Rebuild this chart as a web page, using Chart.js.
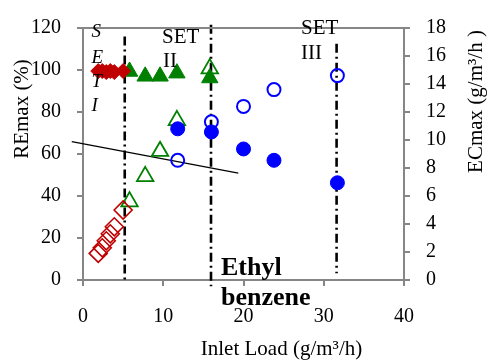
<!DOCTYPE html>
<html>
<head>
<meta charset="utf-8">
<script src="https://cdn.jsdelivr.net/npm/chart.js@4.4.1/dist/chart.umd.min.js"></script>
<style>
html,body{margin:0;padding:0;background:#fff;}
#wrap{width:489px;height:360px;position:relative;}
</style>
</head>
<body>
<div id="wrap"><canvas id="c" width="489" height="360"></canvas></div>
<script>
// ---- data ----
const redLoad   = [1.9, 2.4, 2.9, 3.4, 3.9, 5.0];
const redRE     = [99.5, 99.5, 99.0, 99.5, 99.0, 99.5];
const redEC     = [1.9, 2.3, 2.8, 3.3, 3.8, 5.0];

const greenLoad = [5.8, 7.75, 9.6, 11.7, 15.8];
const greenRE   = [99.3, 97.0, 97.0, 98.5, 96.2];
const greenEC   = [5.6, 7.4, 9.2, 11.4, 15.1];

const blueLoad  = [11.8, 16.0, 20.0, 23.8, 31.7];
const blueRE    = [72.0, 70.5, 62.4, 57.0, 46.3];
const blueEC    = [8.55, 11.3, 12.4, 13.6, 14.6];

const trendX    = [-1.4, 19.35];
const trendY    = [65.9, 50.9];

const setLineX     = [5.2, 15.95, 31.6];
const setLineTop   = [116, 121.5, 112.5];
const setLineBot   = [-1.5, -3, 3.2];

const xTicks  = [0, 10, 20, 30, 40];
const reTicks = [0, 20, 40, 60, 80, 100, 120];
const ecTicks = [0, 2, 4, 6, 8, 10, 12, 14, 16, 18];

const xTitle  = 'Inlet Load (g/m³/h)';
const reTitle = 'REmax (%)';
const ecTitle = 'ECmax (g/m³/h )';
const setLetters = ['S', 'E', 'T', 'I'];
const set2Label = ['SET', 'II'];
const set3Label = ['SET', 'III'];
const compoundLabel = ['Ethyl', 'benzene'];

// ---- build datasets ----
const pts = (xs, ys) => xs.map((x, i) => ({x: x, y: ys[i]}));
const RED = '#C00000', GREEN = '#008000', BLUE = '#0000FF';

const datasets = [];
setLineX.forEach((x, i) => {
  datasets.push({
    data: [{x: x, y: setLineTop[i]}, {x: x, y: setLineBot[i]}],
    yAxisID: 'y', showLine: true, borderColor: '#000', borderWidth: 2.6,
    borderDash: [9, 4, 2, 4], pointRadius: 0, clip: false, order: 5
  });
});
datasets.push({
  data: pts(trendX, trendY), yAxisID: 'y', showLine: true, borderColor: '#000',
  borderWidth: 1.3, pointRadius: 0, clip: false, order: 4
});
datasets.push({data: pts(redLoad, redRE), yAxisID: 'y', pointStyle: 'rectRot', pointRadius: 7.5,
  backgroundColor: RED, borderColor: RED, borderWidth: 1, order: 2});
datasets.push({data: pts(redLoad, redEC), yAxisID: 'y1', pointStyle: 'rectRot', pointRadius: 9,
  backgroundColor: 'rgba(0,0,0,0)', borderColor: RED, borderWidth: 1.6, order: 2});
datasets.push({data: pts(greenLoad, greenRE), yAxisID: 'y', pointStyle: 'triangle', pointRadius: 9.5,
  backgroundColor: GREEN, borderColor: GREEN, borderWidth: 1, order: 2});
datasets.push({data: pts(greenLoad, greenEC), yAxisID: 'y1', pointStyle: 'triangle', pointRadius: 9.5,
  backgroundColor: 'rgba(0,0,0,0)', borderColor: GREEN, borderWidth: 1.8, order: 2});
datasets.push({data: pts(blueLoad, blueRE), yAxisID: 'y', pointStyle: 'circle', pointRadius: 7,
  backgroundColor: BLUE, borderColor: BLUE, borderWidth: 1, order: 1});
datasets.push({data: pts(blueLoad, blueEC), yAxisID: 'y1', pointStyle: 'circle', pointRadius: 6.5,
  backgroundColor: 'rgba(0,0,0,0)', borderColor: BLUE, borderWidth: 2, order: 1});

const SERIF = "'Liberation Serif', 'Times New Roman', serif";
const GRAY = '#868686';
const tickFont = {family: SERIF, size: 20};

const annot = {
  id: 'annot',
  afterDraw(chart) {
    const ctx = chart.ctx, a = chart.chartArea;
    ctx.save();
    ctx.strokeStyle = GRAY; ctx.lineWidth = 2;
    ctx.beginPath(); ctx.moveTo(a.left, a.top); ctx.lineTo(a.right + 1, a.top); ctx.stroke();

    ctx.fillStyle = '#000';
    ctx.textBaseline = 'alphabetic';
    ctx.textAlign = 'left';
    ctx.font = 'italic 19px ' + SERIF;
    const letterBase = [37.3, 62.5, 87.3, 111];
    setLetters.forEach((t, i) => ctx.fillText(t, 91.5, letterBase[i]));

    ctx.font = '21px ' + SERIF;
    ctx.fillText(set2Label[0], 162, 42.7);
    ctx.fillText(set2Label[1], 163, 66.7);
    ctx.fillText(set3Label[0], 301, 34.3);
    ctx.fillText(set3Label[1], 301, 59.3);

    ctx.font = 'bold 26px ' + SERIF;
    ctx.fillText(compoundLabel[0], 221, 275);
    ctx.fillText(compoundLabel[1], 221, 305);

    ctx.font = '21px ' + SERIF;
    ctx.textAlign = 'center';
    ctx.fillText(xTitle, 281.5, 355);

    ctx.save();
    ctx.translate(28, 109);
    ctx.rotate(-Math.PI / 2);
    ctx.fillText(reTitle, 0, 0);
    ctx.restore();

    ctx.save();
    ctx.translate(482, 101.5);
    ctx.rotate(-Math.PI / 2);
    ctx.fillText(ecTitle, 0, 0);
    ctx.restore();

    ctx.restore();
  }
};

const gridOpts = {display: true, drawOnChartArea: false, drawTicks: true, tickLength: 6, color: GRAY, lineWidth: 2};

new Chart(document.getElementById('c'), {
  type: 'scatter',
  data: {datasets: datasets},
  options: {
    responsive: false,
    animation: false,
    events: [],
    layout: {padding: {top: 19, left: 0, right: 0, bottom: 0}},
    plugins: {legend: {display: false}, tooltip: {enabled: false}},
    scales: {
      x: {
        type: 'linear', min: xTicks[0], max: xTicks[xTicks.length - 1],
        afterBuildTicks: s => { s.ticks = xTicks.map(v => ({value: v})); },
        afterFit: s => { s.height = 80; },
        ticks: {font: tickFont, color: '#000', padding: 19, maxRotation: 0},
        grid: gridOpts,
        border: {color: GRAY, width: 2}
      },
      y: {
        type: 'linear', position: 'left', min: reTicks[0], max: reTicks[reTicks.length - 1],
        afterBuildTicks: s => { s.ticks = reTicks.map(v => ({value: v})); },
        afterFit: s => { s.width = 83; },
        ticks: {font: tickFont, color: '#000', padding: 16},
        grid: gridOpts,
        border: {color: GRAY, width: 2}
      },
      y1: {
        type: 'linear', position: 'right', min: ecTicks[0], max: ecTicks[ecTicks.length - 1],
        afterBuildTicks: s => { s.ticks = ecTicks.map(v => ({value: v})); },
        afterFit: s => { s.width = 85; },
        ticks: {font: tickFont, color: '#000', padding: 16},
        grid: gridOpts,
        border: {color: GRAY, width: 2}
      }
    }
  },
  plugins: [annot]
});
</script>
</body>
</html>
